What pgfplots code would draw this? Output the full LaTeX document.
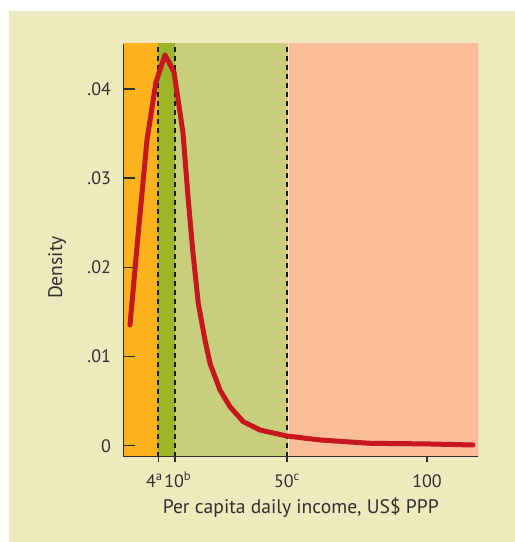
\documentclass[border=0pt]{standalone}
\usepackage{fontspec}
\setmainfont{PT Sans}
\usepackage{pgfplots}
\pgfplotsset{compat=1.18}
\definecolor{bg}{HTML}{EEEABE}
\definecolor{c1}{HTML}{FBB21D}
\definecolor{c2}{HTML}{9DB52A}
\definecolor{c3}{HTML}{C8CF7C}
\definecolor{c4}{HTML}{F9BE98}
\definecolor{cred}{HTML}{C8161E}
\definecolor{axc}{HTML}{2F2F2F}
\pgfplotsset{base/.style={
  at={(123.3pt,85.3pt)}, anchor=south west,
  scale only axis, width=355pt, height=412.7pt,
  xmin=-8.46, xmax=118.32, ymin=-0.001233, ymax=0.04503,
  font=\fontsize{18}{21}\selectfont,
}}
\begin{document}
\begin{tikzpicture}[x=1pt,y=1pt]
\path[use as bounding box] (0,0) rectangle (515,542);
\fill[bg] (9,0) rectangle (515,531);
\begin{axis}[base,
  axis x line=none, axis y line=left,
  axis line style={draw=axc, line width=1.3pt, -},
  axis on top,
  xtick=\empty,
  ytick={0,0.01,0.02,0.03,0.04},
  yticklabels={0,.01,.02,.03,.04},
  scaled y ticks=false,
  ytick pos=left,
  y tick style={draw=none},
  yticklabel style={anchor=east, inner sep=0pt, xshift=-10pt, text=axc},
  ylabel={Density},
  ylabel style={at={(axis description cs:-0.1862,0.4585)}, anchor=center, inner sep=0pt, text=axc, font=\fontsize{19.6}{22}\selectfont},
]
\addplot[draw=none, fill=c1] coordinates {(-9,-0.002) (-9,0.046) (4,0.046) (4,-0.002)} -- cycle;
\addplot[draw=none, fill=c2] coordinates {(4,-0.002) (4,0.046) (10,0.046) (10,-0.002)} -- cycle;
\addplot[draw=none, fill=c3] coordinates {(10,-0.002) (10,0.046) (50,0.046) (50,-0.002)} -- cycle;
\addplot[draw=none, fill=c4] coordinates {(50,-0.002) (50,0.046) (119,0.046) (119,-0.002)} -- cycle;
\addplot[draw=white!60!c4, line width=0.8pt] coordinates {(50.35,-0.002) (50.35,0.046)};
\addplot[draw=black!90, line width=1.5pt, dash pattern=on 5.5pt off 3.5pt] coordinates {(4,-0.0013) (4,0.046)};
\addplot[draw=black!90, line width=1.5pt, dash pattern=on 5.5pt off 3.5pt] coordinates {(10,-0.0013) (10,0.046)};
\addplot[draw=black!90, line width=1.5pt, dash pattern=on 5.5pt off 3.5pt] coordinates {(50,-0.0013) (50,0.046)};
% inward y ticks
\addplot[draw=axc, line width=1.3pt] coordinates {(-8.46,0) (-4.17,0)};
\addplot[draw=axc, line width=1.3pt] coordinates {(-8.46,0.01) (-4.17,0.01)};
\addplot[draw=axc, line width=1.3pt] coordinates {(-8.46,0.02) (-4.17,0.02)};
\addplot[draw=axc, line width=1.3pt] coordinates {(-8.46,0.03) (-4.17,0.03)};
\addplot[draw=axc, line width=1.3pt] coordinates {(-8.46,0.04) (-4.17,0.04)};
\addplot[draw=cred, line width=5pt, line cap=round, line join=round] coordinates {
(-6.07,0.01353) (-3.21,0.02351) (0,0.03427) (3.21,0.04077) (6.43,0.04380)
(9.64,0.04189) (12.86,0.03506) (14.75,0.02754) (16.32,0.02194) (18.32,0.01596)
(20.71,0.01185) (22.5,0.00924) (26.07,0.00624) (29.64,0.00437) (34.39,0.00269)
(40.36,0.00176) (49.89,0.00109) (61.79,0.00064) (79.64,0.00027) (100,0.00020)
(116.4,0.00008)};
\end{axis}
\begin{axis}[base,
  axis x line=bottom, axis y line=none,
  axis line style={draw=axc, line width=1.3pt, -},
  ytick=\empty,
  xtick={4,10,50,100},
  xticklabels={4\textsuperscript{a}\hspace{7.8pt}\mbox{}, \mbox{}\hspace{5.6pt}10\textsuperscript{b}, 50\textsuperscript{c}, 100},
  xtick pos=left,
  xtick align=outside,
  major tick length=5.5pt,
  x tick style={draw=axc, line width=1.3pt},
  xticklabel style={anchor=base, inner sep=0pt, yshift=-25pt, text=axc},
  xlabel={Per capita daily income, US\$ PPP},
  xlabel style={at={(axis description cs:0.5,-0.1371)}, anchor=base, inner sep=0pt, text=axc, font=\fontsize{19.6}{22}\selectfont},
]
\end{axis}
\end{tikzpicture}
\end{document}
